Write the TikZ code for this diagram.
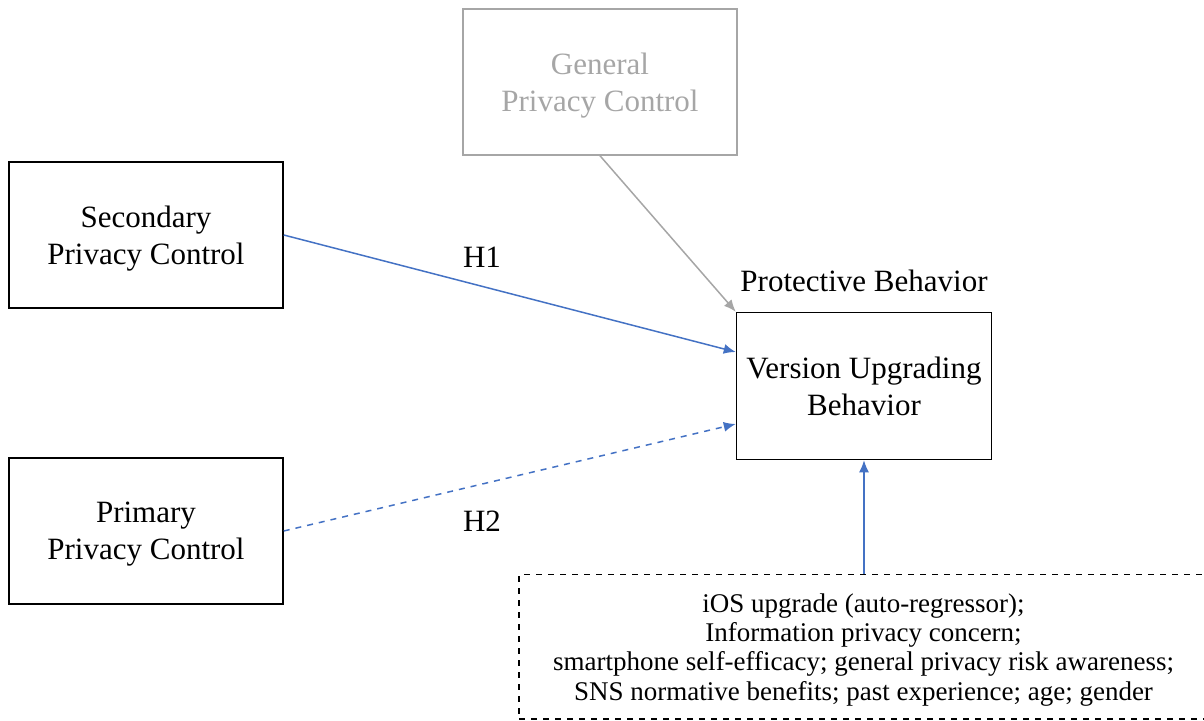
\documentclass[tikz,border=0pt]{standalone}
\usepackage{fontspec}
\setmainfont{Liberation Serif}
\usetikzlibrary{arrows.meta}
\definecolor{linkblue}{HTML}{4472C4}
\definecolor{ctrlgray}{HTML}{A6A6A6}

\begin{document}
\begin{tikzpicture}[x=0.5pt,y=-0.5pt,
  box/.style={draw, line width=0.75pt, minimum width=137pt, minimum height=73pt, align=center, inner sep=0pt, text depth=-1.5pt, font=\fontsize{15.5}{18.3}\selectfont},
  lbl/.style={font=\fontsize{15.5}{18.3}\selectfont},
  link/.style={-{Latex[length=6pt,width=5pt]}, line width=0.75pt, draw=linkblue}]
\useasboundingbox (0,0) rectangle (1204,721);
\node[box] (sec) at (146,235) {Secondary\\Privacy Control};
\node[box] (pri) at (146,531) {Primary\\Privacy Control};
\node[box, draw=ctrlgray, text=ctrlgray] (gen) at (600,82) {General\\Privacy Control};
\node[box, minimum width=127.5pt, minimum height=73.5pt] (ver) at (864,386) {Version Upgrading\\Behavior};
\node[lbl] (prot) at (864,281) {Protective Behavior};
\node[box, dashed, minimum width=344.5pt, minimum height=72.25pt, font=\fontsize{13.5}{14.7}\selectfont] (ctrl) at (863.5,646.75) {iOS upgrade (auto-regressor);\\Information privacy concern;\\smartphone self-efficacy; general privacy risk awareness;\\SNS normative benefits; past experience; age; gender};
\node[lbl] (h1) at (482,257) {H1};
\node[lbl] (h2) at (482,521) {H2};

\draw[link] (sec.east) -- ([yshift=17pt]ver.west);
\draw[link, dashed] (pri.east) -- ([yshift=-19pt]ver.west);
\draw[link, draw=ctrlgray] (gen.south) -- (ver.north west);
\draw[link] (ctrl.north -| ver.south) -- (ver.south);
\end{tikzpicture}
\end{document}
